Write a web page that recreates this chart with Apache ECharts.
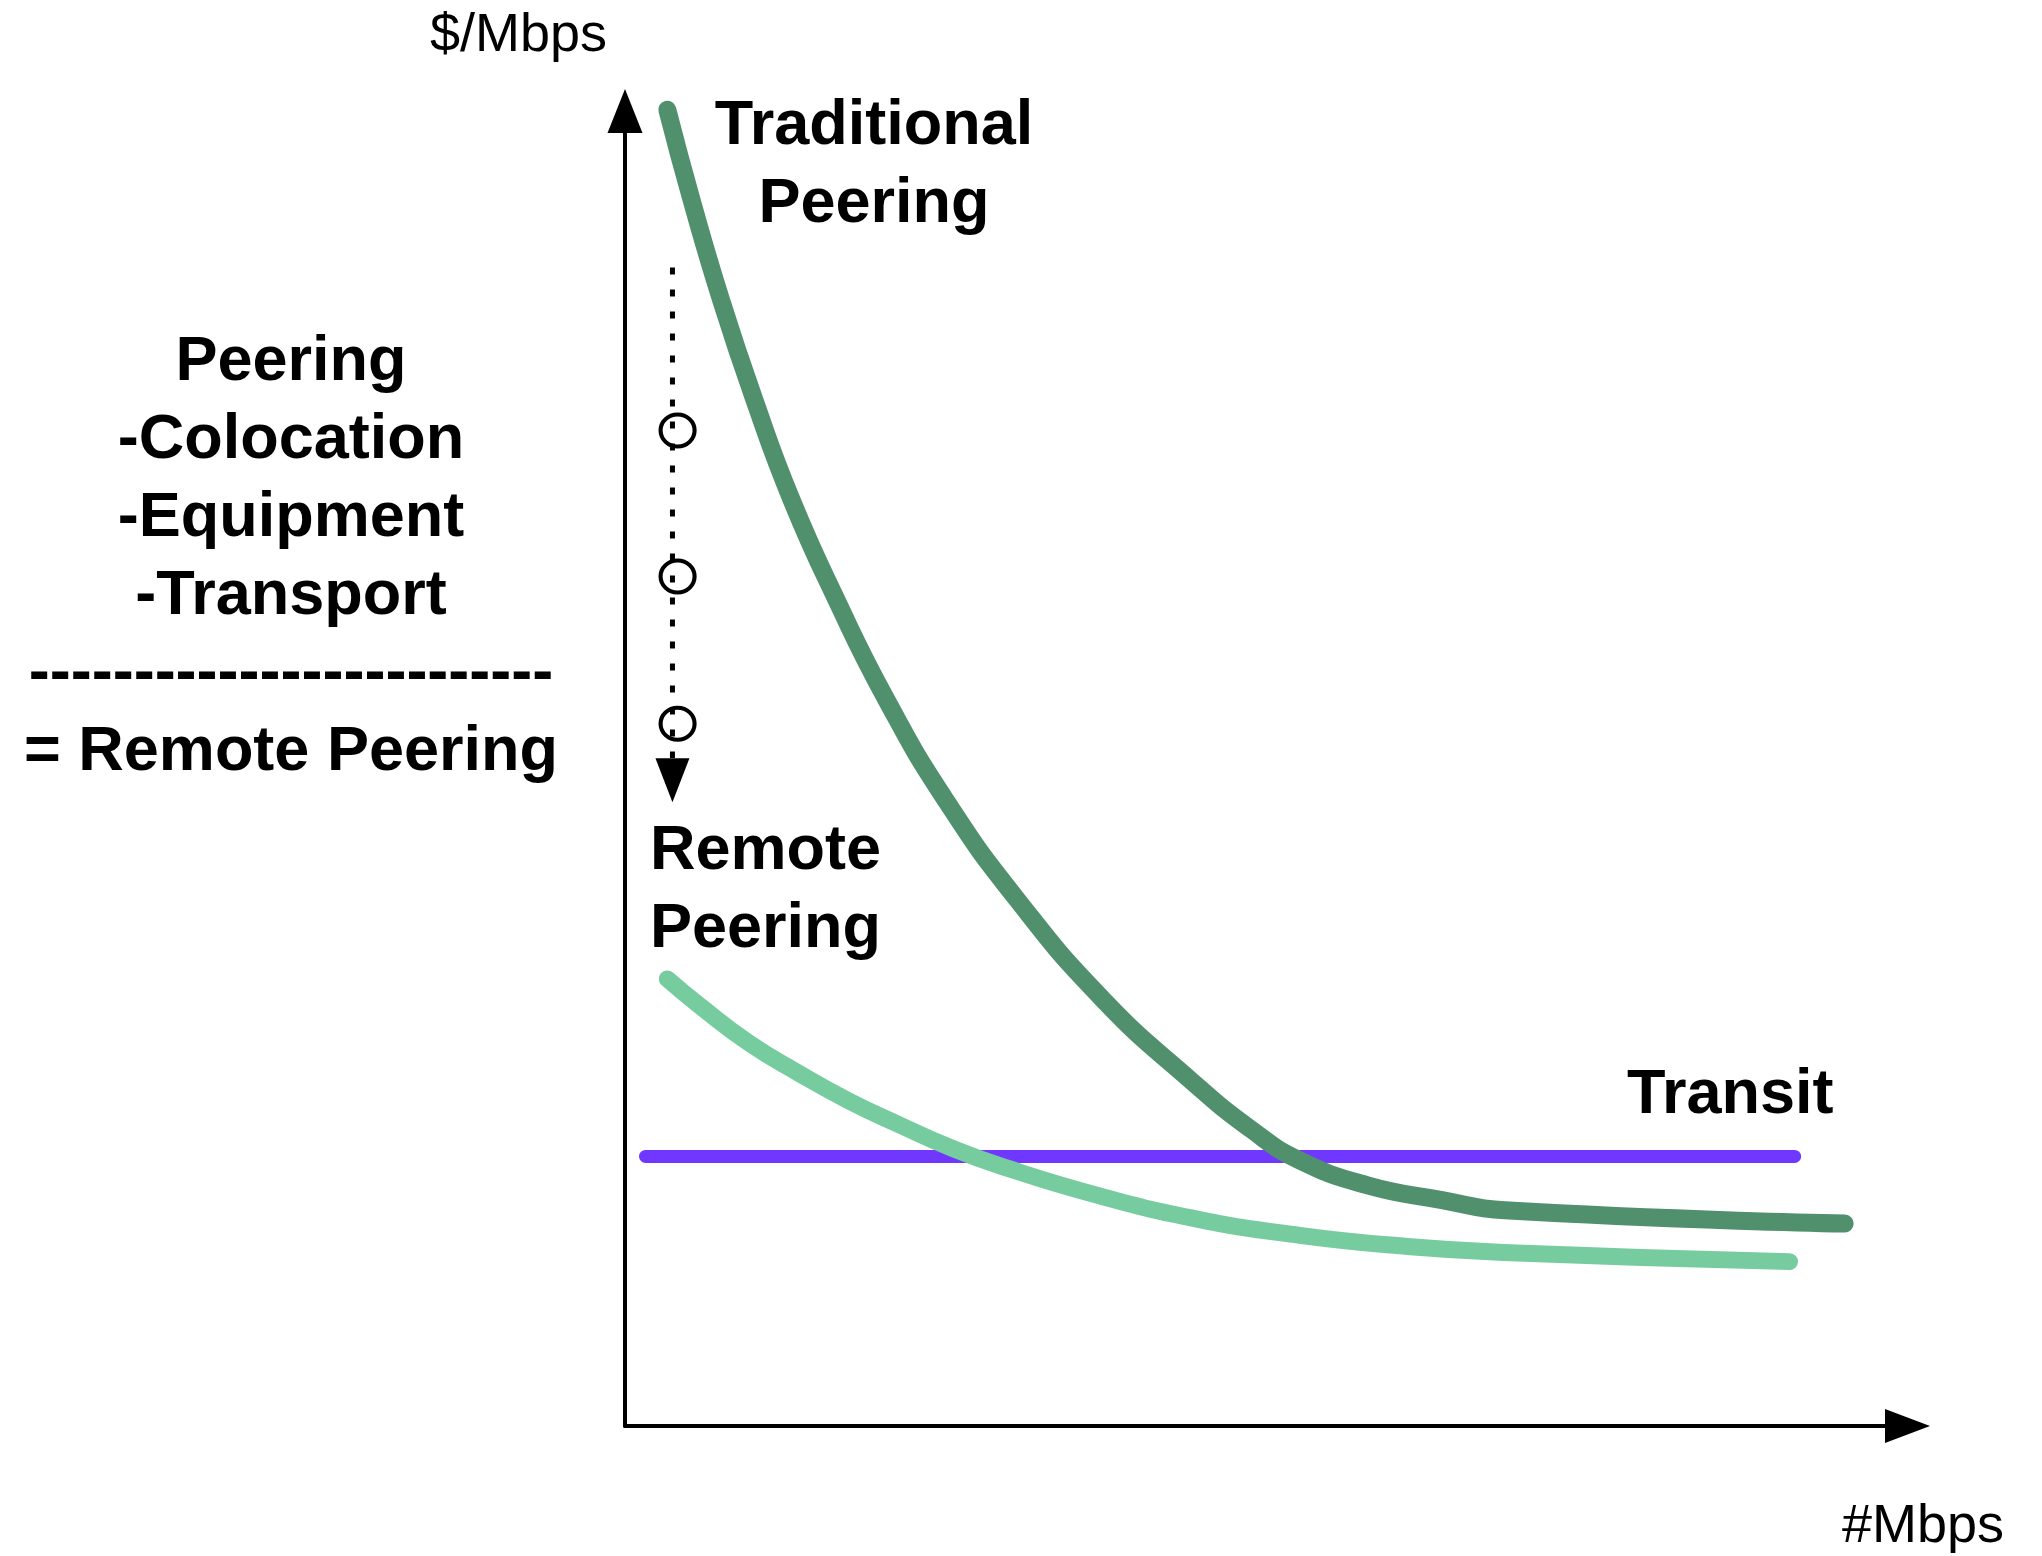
<!DOCTYPE html>
<html>
<head>
<meta charset="utf-8">
<script src="https://cdn.jsdelivr.net/npm/echarts@6/dist/echarts.min.js"></script>
<style>
  html, body { margin: 0; background: #fff; }
  #chart { width: 2042px; height: 1556px; }
</style>
</head>
<body>
<div id="chart"></div>
<script>
// values, in axis units (0..100 on both axes)
const tradX = [3.3, 5.2, 7.5, 10.1, 13.0, 16.5, 20.4, 25.0, 30.6, 37.3, 44.1, 48.9, 52.6, 57.9, 63.6, 68.6, 95.1];
const tradY = [100.1, 93.2, 85.6, 78.0, 70.4, 62.8, 55.2, 47.6, 40.0, 32.4, 26.3, 22.5, 20.2, 18.3, 17.2, 16.4, 15.4];

const remoteX = [3.3, 5.9, 9.7, 13.6, 17.5, 21.4, 25.3, 29.2, 37.0, 44.8, 52.6, 60.4, 68.5, 90.8];
const remoteY = [34.0, 31.9, 29.1, 26.8, 24.7, 22.9, 21.2, 19.8, 17.5, 15.7, 14.5, 13.7, 13.2, 12.5];

const transitX = [1.6, 91.2];
const transitY = [20.5, 20.5];

// dotted "cost drop" cue next to the y axis
const cueX = [3.7, 3.7];
const cueY = [88.1, 50.8];
const ringX = [4.1, 4.1, 4.1];
const ringY = [75.7, 64.6, 53.4];
const tipX = [3.7];
const tipY = [49.1];

const zip = (xs, ys) => xs.map((x, i) => [x, ys[i]]);

const FONT = '"Liberation Sans", Arial, Helvetica, sans-serif';

let myChart = echarts.init(document.getElementById("chart"));

const axisBase = {
  type: "value",
  min: 0,
  max: 100,
  axisTick: { show: false },
  axisLabel: { show: false },
  splitLine: { show: false },
};

myChart.setOption({
  animation: false,
  backgroundColor: "#fff",
  grid: { left: 625, right: 134.5, top: 111, bottom: 130 },
  xAxis: Object.assign({}, axisBase, {
    axisLine: {
      show: true,
      symbol: ["none", "triangle"],
      symbolSize: [34, 45],
      lineStyle: { color: "#000", width: 4 }
    }
  }),
  yAxis: Object.assign({}, axisBase, {
    axisLine: {
      show: true,
      symbol: ["none", "triangle"],
      symbolSize: [35, 44],
      lineStyle: { color: "#000", width: 4 }
    }
  }),
  series: [
    {
      name: "Transit",
      type: "line",
      data: zip(transitX, transitY),
      showSymbol: false,
      clip: false,
      silent: true,
      lineStyle: { color: "#7038ff", width: 13, cap: "round" }
    },
    {
      name: "Remote Peering",
      type: "line",
      data: zip(remoteX, remoteY),
      smooth: 0.5,
      showSymbol: false,
      clip: false,
      silent: true,
      lineStyle: { color: "#76cc9e", width: 17, cap: "round", join: "round" }
    },
    {
      name: "Traditional Peering",
      type: "line",
      data: zip(tradX, tradY),
      smooth: 0.5,
      showSymbol: false,
      clip: false,
      silent: true,
      lineStyle: { color: "#50906d", width: 18, cap: "round", join: "round" }
    },
    {
      type: "line",
      data: zip(cueX, cueY),
      showSymbol: false,
      clip: false,
      silent: true,
      lineStyle: { color: "#000", width: 5, type: [7, 15] }
    },
    {
      type: "scatter",
      data: zip(tipX, tipY),
      symbol: "triangle",
      symbolRotate: 180,
      symbolSize: [34, 44],
      clip: false,
      silent: true,
      itemStyle: { color: "#000", opacity: 1 }
    },
    {
      type: "scatter",
      data: zip(ringX, ringY),
      symbol: "circle",
      symbolSize: [34, 32],
      clip: false,
      silent: true,
      itemStyle: { color: "rgba(0,0,0,0)", borderColor: "#000", borderWidth: 4, opacity: 1 }
    }
  ],
  graphic: [
    {
      type: "text", x: 607, y: 36,
      style: { text: "$/Mbps", font: "54px " + FONT, fill: "#000", align: "right", verticalAlign: "middle" }
    },
    {
      type: "text", x: 1842, y: 1527,
      style: { text: "#Mbps", font: "54px " + FONT, fill: "#000", align: "left", verticalAlign: "middle" }
    },
    {
      type: "text", x: 874, y: 166,
      style: { text: "Traditional\nPeering", font: "bold 63px " + FONT, lineHeight: 78, fill: "#000", align: "center", verticalAlign: "middle" }
    },
    {
      type: "text", x: 650, y: 891,
      style: { text: "Remote\nPeering", font: "bold 63px " + FONT, lineHeight: 78, fill: "#000", align: "left", verticalAlign: "middle" }
    },
    {
      type: "text", x: 1627, y: 1096,
      style: { text: "Transit", font: "bold 63px " + FONT, fill: "#000", align: "left", verticalAlign: "middle" }
    },
    {
      type: "text", x: 291, y: 558,
      style: {
        text: "Peering\n-Colocation\n-Equipment\n-Transport\n-------------------------\n= Remote Peering",
        font: "bold 63px " + FONT, lineHeight: 78, fill: "#000", align: "center", verticalAlign: "middle"
      }
    }
  ]
});
</script>
</body>
</html>
